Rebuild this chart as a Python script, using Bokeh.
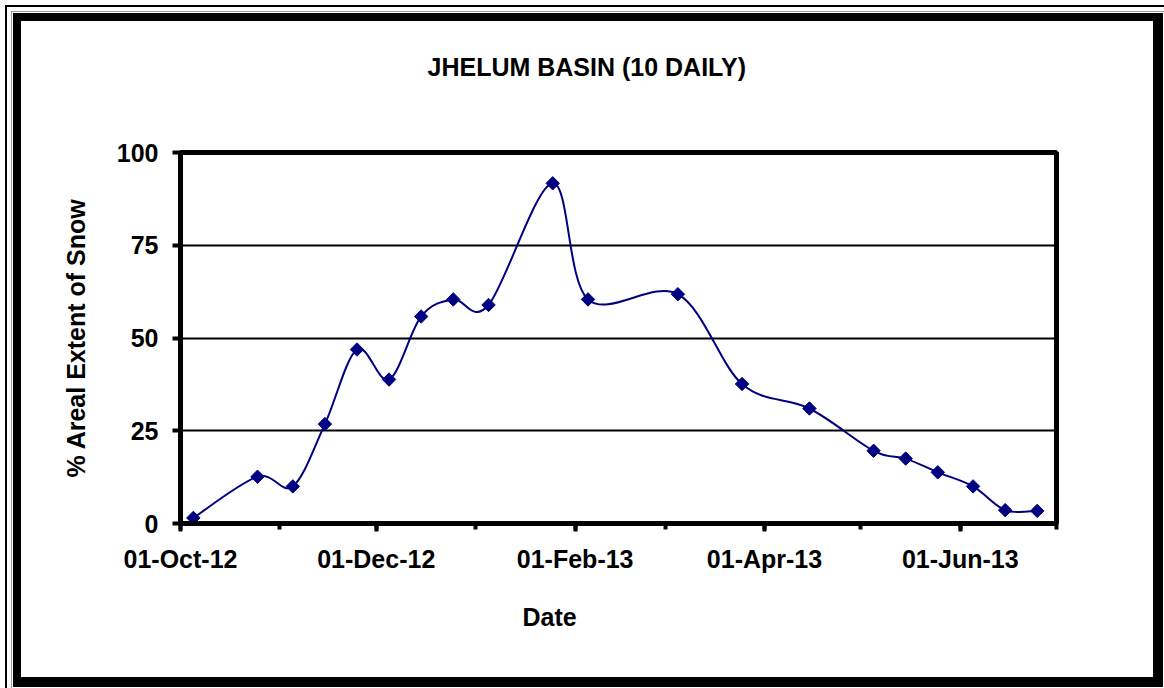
from datetime import datetime
import math
from bokeh.plotting import figure
from bokeh.models import (Range1d, FixedTicker, Title,
                          ColumnDataSource, DatetimeTickFormatter)
from bokeh.embed import file_html
from bokeh.resources import INLINE

# ---- data ----
dates = ["2012-10-05", "2012-10-25", "2012-11-05", "2012-11-15", "2012-11-25",
         "2012-12-05", "2012-12-15", "2012-12-25", "2013-01-05", "2013-01-25",
         "2013-02-05", "2013-03-05", "2013-03-25", "2013-04-15", "2013-05-05",
         "2013-05-15", "2013-05-25", "2013-06-05", "2013-06-15", "2013-06-25"]
snow_pct = [1.5, 12.6, 10.0, 26.8, 46.9, 38.8, 55.8, 60.4, 58.9, 91.7,
            60.4, 61.8, 37.6, 31.0, 19.6, 17.5, 13.8, 10.0, 3.6, 3.4]
tick_dates = ["2012-10-01", "2012-12-01", "2013-02-01", "2013-04-01", "2013-06-01"]
tick_labels = ["01-Oct-12", "01-Dec-12", "01-Feb-13", "01-Apr-13", "01-Jun-13"]
minor_dates = ["2012-11-01", "2013-01-01", "2013-03-01", "2013-05-01", "2013-07-01"]
x_start, x_end = "2012-10-01", "2013-07-01"
y_ticks = [0, 25, 50, 75, 100]
grid_ticks = [25, 50, 75]

title_text = "JHELUM BASIN (10 DAILY)"
x_title = "Date"
y_title = "% Areal Extent of Snow"

FONT = "Liberation Sans"
NAVY = "#000080"


def ms(s):
    return (datetime.strptime(s, "%Y-%m-%d") - datetime(1970, 1, 1)).total_seconds() * 1000.0


xs = [ms(d) for d in dates]
ys = snow_pct

n = len(xs)
seg = dict(x0=[], y0=[], x1=[], y1=[], cx0=[], cy0=[], cx1=[], cy1=[])
for i in range(n - 1):
    a = i - 1 if i > 0 else i
    d = i + 2 if i + 2 < n else i + 1
    seg["x0"].append(xs[i]); seg["y0"].append(ys[i])
    seg["x1"].append(xs[i + 1]); seg["y1"].append(ys[i + 1])
    seg["cx0"].append(xs[i] + (xs[i + 1] - xs[a]) / 6.0)
    seg["cy0"].append(ys[i] + (ys[i + 1] - ys[a]) / 6.0)
    seg["cx1"].append(xs[i + 1] - (xs[d] - xs[i]) / 6.0)
    seg["cy1"].append(ys[i + 1] - (ys[d] - ys[i]) / 6.0)

W, H = 1164, 688
p = figure(width=W, height=H, x_axis_type="datetime",
           x_range=Range1d(ms(x_start), ms(x_end)), y_range=Range1d(0, 100),
           output_backend="svg", toolbar_location=None,
           min_border_left=180, min_border_right=108,
           min_border_top=152, min_border_bottom=165)
p.title.visible = False
p.background_fill_color = "white"
p.border_fill_color = None
p.outline_line_color = "black"
p.outline_line_width = 5

# outer chart frame (CSS inset shadows on the figure element, painted under the canvas)
p.styles = {"box-shadow": ", ".join([
    "inset 6px 6px 0 -1px white",
    "inset 6px 6px 0 1px black",
    "inset 6px 6px 0 5px white",
    "inset 6px 6px 0 6px #9a9a9a",
    "inset 6px 6px 0 7px white",
    "inset 5px 5px 0 16px black",
]), "background": "white"}

p.xgrid.visible = False
p.ygrid.ticker = FixedTicker(ticks=grid_ticks)
p.ygrid.grid_line_color = "black"
p.ygrid.grid_line_width = 2

tick_ms = [ms(d) for d in tick_dates]
minor_ms = [ms(d) for d in minor_dates]
xa = p.xaxis[0]
xa.ticker = FixedTicker(ticks=tick_ms, minor_ticks=sorted(tick_ms + minor_ms))
xa.formatter = DatetimeTickFormatter(days="%d-%b-%y", months="%d-%b-%y", years="%d-%b-%y")
xa.major_label_overrides = {t: l for t, l in zip(tick_ms, tick_labels)}
ya = p.yaxis[0]
ya.ticker = FixedTicker(ticks=y_ticks)
ya.axis_label = y_title
ya.axis_label_standoff = 24

for ax in (xa, ya):
    ax.axis_line_color = "black"
    ax.axis_line_width = 5
    ax.major_tick_line_color = "black"
    ax.major_tick_line_width = 4
    ax.major_tick_out = 8
    ax.major_tick_in = 0
    ax.minor_tick_line_color = "black"
    ax.minor_tick_line_width = 4
    ax.minor_tick_out = 6
    ax.minor_tick_in = 0
    ax.major_label_text_font = FONT
    ax.major_label_text_font_size = "25px"
    ax.major_label_text_font_style = "bold"
    ax.major_label_text_color = "black"
    ax.major_label_standoff = 13
    ax.axis_label_text_font = FONT
    ax.axis_label_text_font_size = "25px"
    ax.axis_label_text_font_style = "bold"
    ax.axis_label_text_color = "black"
ya.minor_tick_line_color = None
ya.major_label_standoff = 14

p.bezier(x0="x0", y0="y0", x1="x1", y1="y1", cx0="cx0", cy0="cy0", cx1="cx1", cy1="cy1",
         source=ColumnDataSource(seg), line_color=NAVY, line_width=2)
p.scatter(x=xs, y=ys, marker="square", angle=math.pi / 4, size=9.5,
          fill_color=NAVY, line_color=NAVY)

# spacer between the frame and the chart title, then the chart title
p.add_layout(Title(text=" ", standoff=64, text_font=FONT, text_font_size="1px"), "above")
p.add_layout(Title(text=title_text, align="left", offset=247, standoff=10,
                   vertical_align="bottom", text_font=FONT, text_font_size="25px",
                   text_font_style="bold", text_color="black"), "above")
# x-axis title
p.add_layout(Title(text=x_title, align="left", offset=342, standoff=54,
                   vertical_align="top", text_font=FONT, text_font_size="25px",
                   text_font_style="bold", text_color="black"), "below")

open("out.html", "w").write(file_html(p, INLINE))
